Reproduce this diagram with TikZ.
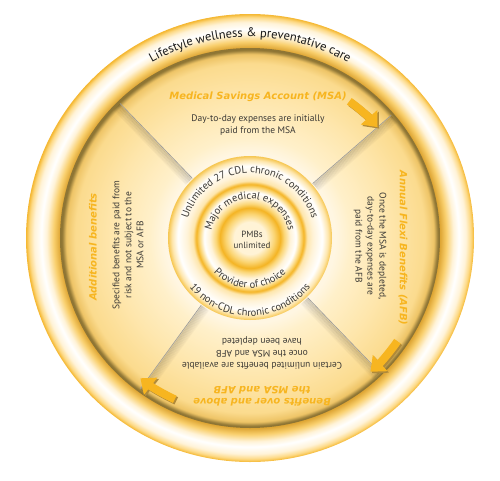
\documentclass[tikz,border=0pt]{standalone}
\usepackage{fontspec}
\setsansfont{PT Sans}
\newfontfamily\headfont{DejaVu Sans}
\usetikzlibrary{arrows.meta,decorations.text}

\definecolor{gold}{HTML}{F7B520}
\definecolor{goldshadow}{HTML}{B08A3A}
\definecolor{inkgrey}{HTML}{3A3834}
\definecolor{rimgold}{HTML}{F4B62E}
\definecolor{rimdeep}{HTML}{DDA432}
\definecolor{rimwarm}{HTML}{F9CF6C}
\definecolor{rimpale}{HTML}{FFF3D8}
\definecolor{rimsoft}{HTML}{FDD984}
\definecolor{disccore}{HTML}{FFF6E2}
\definecolor{discpale}{HTML}{FFF0CA}
\definecolor{discmid}{HTML}{FEE6AC}
\definecolor{discwarm}{HTML}{FBDB8E}
\definecolor{discedge}{HTML}{EEC466}
\definecolor{discdark}{HTML}{8E7534}
\definecolor{hubcore}{HTML}{FFF3D6}
\definecolor{hubwarm}{HTML}{FBD676}
\definecolor{hubring}{HTML}{F4B424}
\definecolor{hubedge}{HTML}{F6C650}

\pgfdeclareradialshading{rimglow}{\pgfpointorigin}{%
  color(0bp)=(rimdeep); color(21.2bp)=(rimdeep); color(21.9bp)=(rimwarm);
  color(22.7bp)=(rimpale); color(23.3bp)=(white); color(24.1bp)=(rimpale);
  color(24.65bp)=(rimsoft); color(25bp)=(rimgold); color(50bp)=(rimgold)}
\pgfdeclareradialshading{discglow}{\pgfpointorigin}{%
  color(0bp)=(disccore); color(11.2bp)=(disccore); color(13.2bp)=(discpale);
  color(18.4bp)=(discmid); color(23bp)=(discwarm); color(24.2bp)=(discedge);
  color(24.75bp)=(discdark); color(25bp)=(discdark); color(50bp)=(discdark)}
\pgfdeclareradialshading{hubglow}{\pgfpointorigin}{%
  color(0bp)=(hubcore); color(4.9bp)=(hubcore); color(7.3bp)=(hubwarm);
  color(9.2bp)=(hubring); color(10.4bp)=(hubwarm); color(12.2bp)=(rimpale);
  color(14bp)=(white); color(15.5bp)=(hubwarm); color(16.4bp)=(hubring);
  color(17.4bp)=(discmid); color(19.2bp)=(rimpale); color(22bp)=(white);
  color(23.8bp)=(discmid); color(25bp)=(hubedge); color(50bp)=(hubedge)}

\newcommand\rimfont{\sffamily\fontsize{12.5}{15}\selectfont\color{black!90}}
\newcommand\hubfont{\sffamily\fontsize{10.5}{12}\selectfont\color{inkgrey}}

\begin{document}
\begin{tikzpicture}[x=1pt, y=1pt,
    head/.style={font=\headfont\fontsize{10}{12}\selectfont\bfseries\itshape, text=gold, align=center},
    body/.style={font=\sffamily\fontsize{9.5}{12}\selectfont, text=inkgrey, align=center},
    swoosh/.style={line width=8pt, -{Triangle[width=21pt,length=13pt]}},
    curved/.style={decorate, decoration={text along path, text align=center, text={#1}}}]
  \useasboundingbox (-250,-242) rectangle (250,238);
  \coordinate (C) at (0,0);
  \shade[shading=rimglow] (C) circle[radius=224];
  \shade[shading=discglow] (C) circle[radius=190];
  \foreach \a/\b in {41/-49, 134/224, 234/324, 314/224} {
    \foreach \k [evaluate=\k as \op using {0.15-0.014*\k}] in {1,...,9}
      \draw[line width=1.2pt, black, opacity=\op, shift={(\b:\k)}] (\a:83) -- (\a:187);
    \draw[line width=.6pt, black!40] (\a:83) -- (\a:187);
  }
  \shade[shading=hubglow] (C) circle[radius=82];

  \coordinate (msaTail) at (54:169);
  \coordinate (afbTail) at (-35:180);
  \coordinate (overTail) at (-115:178);
  \foreach \t/\s/\e/\r in {msaTail/54/41/169, afbTail/-35/-48/180, overTail/-115/-128/178} {
    \draw[swoosh, goldshadow] ([shift={(1.5,-1.5)}]\t) arc[start angle=\s, end angle=\e, radius=\r];
    \draw[swoosh, gold] (\t) arc[start angle=\s, end angle=\e, radius=\r];
  }

  \node[head] (msaHead) at (8,141) {Medical Savings Account (MSA)};
  \node[body] (msaText) at (8,113) {Day-to-day expenses are initially\\paid from the MSA};
  \node[head, rotate=-90] (afbHead) at (153,-10) {Annual Flexi Benefits (AFB)};
  \node[body, rotate=-90] (afbText) at (120,-8) {Once the MSA is depleted,\\day-to-day expenses are\\paid from the AFB};
  \node[head, rotate=90] (addHead) at (-157,-9) {Additional benefits};
  \node[body, rotate=90] (addText) at (-122,-7) {Specified benefits are paid from\\risk and not subject to the\\MSA or AFB};
  \node[head, rotate=180] (overHead) at (12,-158) {Benefits over and above\\the MSA and AFB};
  \node[body, rotate=180] (overText) at (12,-115) {Certain unlimited benefits are available\\once the MSA and AFB\\have been depleted};
  \node[body, font=\sffamily\fontsize{9}{11}\selectfont] (pmb) at (2,-2) {PMBs\\unlimited};

  \path[curved={|\rimfont|Lifestyle wellness {\&} preventative care}] (124:201) arc[start angle=124, end angle=56, radius=201];
  \path[curved={|\hubfont|Unlimited 27 CDL chronic conditions}] (165:65) arc[start angle=165, end angle=15, radius=65];
  \path[curved={|\hubfont|Major medical expenses}] (175:39) arc[start angle=175, end angle=5, radius=39];
  \path[curved={|\hubfont|Provider of choice}] (200:50) arc[start angle=200, end angle=340, radius=50];
  \path[curved={|\hubfont|19 non-CDL chronic conditions}] (195:78) arc[start angle=195, end angle=345, radius=78];
\end{tikzpicture}
\end{document}
